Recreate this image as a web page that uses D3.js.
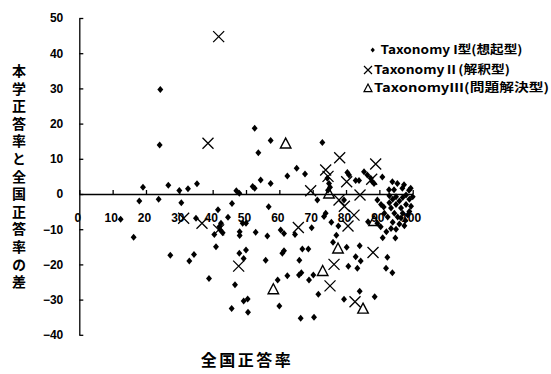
<!DOCTYPE html>
<html>
<head>
<meta charset="utf-8">
<script src="https://cdn.jsdelivr.net/npm/d3@7/dist/d3.min.js"></script>
<style>
  body { margin: 0; background: #fff; }
  svg { display: block; }
  .tick text { font-family: "Liberation Sans", Arial, sans-serif; font-weight: bold; font-size: 12px; fill: #000; }
  .jp { font-family: "Noto Sans CJK JP", sans-serif; font-weight: bold; fill: #000; }
</style>
</head>
<body>
<div id="chart"></div>
<script>
// values: [全国正答率, 差]
const typeOne = [
  [24.3, 29.7], [24.1, 13.9], [19.1, 1.9], [26.7, 2.5], [30, 1.0], [32.6, 1.5], [35.3, 2.9], [47.1, 0.9], [48, 0.2],
  [18, -2], [23.8, -1.5], [30.6, -2.5], [12.4, -7.2], [35, -6.9], [41.6, -4.5], [45.8, -2.7], [44.6, -6.6],
  [16.3, -12.3], [27.3, -17.4], [33, -19], [34.4, -17.2], [38.9, -24], [41, -15],
  [40.5, -11.5], [42.3, -10.2], [43, -11], [42.5, -8.3], [42, -9.3],
  [48.1, -10.7], [48.1, -11.8], [49, -8.3], [50, -8.3], [48, -16.8], [50, -15.9], [49.3, -18.3], [46.7, -25.8],
  [49.3, -30.4], [50.5, -29.8], [45.7, -32.5], [50.6, -33.6],
  [56.8, -3.6], [52.9, -10.9], [56.4, -11.9], [55.9, -18.8], [60, -31.8],
  [52.6, 18.7], [57.4, 15.2], [53.7, 11.7], [72.9, 14.6], [65.2, 7.3], [67.7, 5.7], [62.4, 5.1], [54.4, 4.0],
  [57.4, 3.0], [52, 2.1], [52.6, 1.6],
  [74.4, 4.5], [74.9, 3.0], [75.2, 1.9], [74.6, 1.1], [80.4, 6.1], [80.9, 5.4], [82.9, 3.8], [83.9, 3.8],
  [85.4, 6.3], [86.4, 5.4], [87.4, 4.5], [87.9, 3.5], [88.4, 3.0], [90.9, 4.8], [93.9, 3.5], [95.4, 3],
  [97.4, 2.6], [98.9, 1.1], [92.9, 1.2], [94.4, 1.2], [96.9, 1.6], [99.4, 1.6],
  [71.4, -1.7], [73.9, -5.5], [73.4, -6.4], [75.6, -8], [77.7, -9.1], [60.4, -10.2], [61.4, -11.2], [64.7, -11.5],
  [69.7, -9.6], [77.1, -11.7], [76.1, -13.7], [80.2, -15.1], [84.1, -14.7], [82.9, -17.8], [84.4, -19],
  [92.4, -18], [92, -21.1], [93.9, -22.4],
  [60.9, -16.8], [61.4, -16.1], [66.9, -15.6], [68.7, -15.6], [66, -18.8], [80.7, -20.5], [83.4, -21.1],
  [70.2, -23], [68.9, -24.4], [65.9, -23], [66.6, -22.4], [62.4, -23.2], [59.5, -24.4], [71.7, -28.5],
  [66.4, -35.3], [70.4, -35], [79.4, -29.9], [84.1, -27.6], [88.6, -29.2],
  [79.4, -1.7], [89.4, -1.7], [91.3, -3.7], [86.6, -7.9], [89.4, -8.3], [90.4, -9.3], [92.1, -10.7],
  [93, -0.5], [94, -1.5], [95, -0.8], [96, -2], [97, -1], [98, -0.3], [99, -1.5], [100, -0.8],
  [95, -3], [96.5, -4], [98, -3], [99.5, -3.5], [93.5, -4], [94.5, -5.5], [95.5, -6.5], [97, -5.5],
  [98.5, -6], [92.5, -6.5], [94, -8], [96, -8.5], [97.5, -9], [93, -2.5], [91.5, -5.5], [99, -5],
  [95, -10], [90.5, -3], [96.5, -6.8], [94.8, -12.5], [91, -12.4], [97.8, -7.5], [93.5, -9.8]
];
const typeTwo = [
  [41.8, 44.7], [38.6, 14.4], [31.3, -6.9], [36.8, -8.3], [41.8, -10.2], [47.8, -20.5], [65.7, -9.5],
  [69.4, 0.9], [73.9, 6.8], [74.6, 5.0], [78.1, 10.3], [80.2, 3.5], [87.7, 4.2], [88.9, 8.5], [84.2, -0.3],
  [77.9, -1.7], [79.5, -3.5], [82.4, -6], [80.6, -9.1], [88.1, -16.6], [76.4, -20], [75.2, -26.1], [82.7, -30.6]
];
const typeThree = [
  [61.9, 14.4], [74.9, 0.2], [77.6, -15.4], [73, -21.8], [58.2, -27], [85.1, -32.5], [88.4, -7.6]
];
const xTicks = [0, 10, 20, 30, 40, 50, 60, 70, 80, 90, 100];
const yTicks = [50, 40, 30, 20, 10, 0, -10, -20, -30, -40];
const legendLabels = ["Taxonomy I型(想起型)", "TaxonomyⅡ(解釈型)", "TaxonomyⅢ(問題解決型)"];
const yTitle = "本学正答率と全国正答率の差";
const xTitle = "全国正答率";

const width = 551, height = 374;

const svg = d3.select('#chart').append('svg')
  .attr('width', width)
  .attr('height', height);

const x = d3.scaleLinear().domain([0, 100]).range([79.3, 412.7]);
const y = d3.scaleLinear().domain([-40, 50]).range([334.8, 18]);

// marker shapes
const diamond = {
  draw(ctx, size) {
    const r = Math.sqrt(size) / 2;
    ctx.moveTo(0, -r); ctx.lineTo(r * 0.85, 0); ctx.lineTo(0, r); ctx.lineTo(-r * 0.85, 0); ctx.closePath();
  }
};
const cross = {
  draw(ctx, size) {
    const r = Math.sqrt(size) / 2;
    ctx.moveTo(-r, -r); ctx.lineTo(r, r); ctx.moveTo(r, -r); ctx.lineTo(-r, r);
  }
};
const triangle = {
  draw(ctx, size) {
    const r = Math.sqrt(size) / 2;
    ctx.moveTo(0, -r); ctx.lineTo(r, r * 0.9); ctx.lineTo(-r, r * 0.9); ctx.closePath();
  }
};

// y axis, ticks pointing inward
svg.append('g')
  .attr('transform', `translate(${x(0)},0)`)
  .call(d3.axisLeft(y).tickValues(yTicks).tickSizeInner(-4).tickSizeOuter(0).tickPadding(16));

// x axis on the zero line, ticks pointing up
const xAxis = svg.append('g')
  .attr('transform', `translate(0,${y(0)})`)
  .call(d3.axisBottom(x).tickValues(xTicks).tickSizeInner(-4).tickSizeOuter(0).tickPadding(19));
xAxis.selectAll('.tick text').attr('dx', -2);

svg.selectAll('.domain, .tick line').attr('stroke', '#000').attr('stroke-width', 1.3);

// points
const plot = svg.append('g');

plot.selectAll('.t1').data(typeOne).enter().append('path')
  .attr('class', 't1')
  .attr('transform', d => `translate(${x(d[0])},${y(d[1])})`)
  .attr('d', d3.symbol().type(diamond).size(49))
  .attr('fill', '#000');

plot.selectAll('.t2').data(typeTwo).enter().append('path')
  .attr('class', 't2')
  .attr('transform', d => `translate(${x(d[0])},${y(d[1])})`)
  .attr('d', d3.symbol().type(cross).size(121))
  .attr('fill', 'none')
  .attr('stroke', '#000')
  .attr('stroke-width', 1.3);

plot.selectAll('.t3').data(typeThree).enter().append('path')
  .attr('class', 't3')
  .attr('transform', d => `translate(${x(d[0])},${y(d[1])})`)
  .attr('d', d3.symbol().type(triangle).size(110))
  .attr('fill', 'none')
  .attr('stroke', '#000')
  .attr('stroke-width', 1.4);

// legend
const legendRows = [
  {type: diamond, size: 25, fill: '#000', stroke: 'none', mx: 372.7, tx: 380.5, ty: 50, w: 142},
  {type: cross, size: 64, fill: 'none', stroke: '#000', mx: 368, tx: 374, ty: 70, w: 136},
  {type: triangle, size: 64, fill: 'none', stroke: '#000', mx: 368, tx: 374, ty: 88, w: 175}
];
const legend = svg.append('g');
legendRows.forEach((r, i) => {
  legend.append('path')
    .attr('transform', `translate(${r.mx},${r.ty})`)
    .attr('d', d3.symbol().type(r.type).size(r.size))
    .attr('fill', r.fill)
    .attr('stroke', r.stroke)
    .attr('stroke-width', 1.2);
  legend.append('text')
    .attr('class', 'jp')
    .attr('x', r.tx)
    .attr('y', r.ty)
    .attr('dy', '0.36em')
    .attr('font-size', 12)
    .attr('textLength', r.w)
    .attr('lengthAdjust', 'spacingAndGlyphs')
    .text(legendLabels[i]);
});

// axis titles
svg.append('text')
  .attr('class', 'jp')
  .attr('transform', 'translate(19,178)')
  .attr('text-anchor', 'middle')
  .attr('font-size', 14)
  .attr('letter-spacing', 3.6)
  .style('writing-mode', 'vertical-rl')
  .style('text-orientation', 'upright')
  .text(yTitle);

svg.append('text')
  .attr('class', 'jp')
  .attr('x', 247)
  .attr('y', 360)
  .attr('dy', '0.36em')
  .attr('text-anchor', 'middle')
  .attr('font-size', 16)
  .attr('letter-spacing', 2.5)
  .text(xTitle);
</script>
</body>
</html>
